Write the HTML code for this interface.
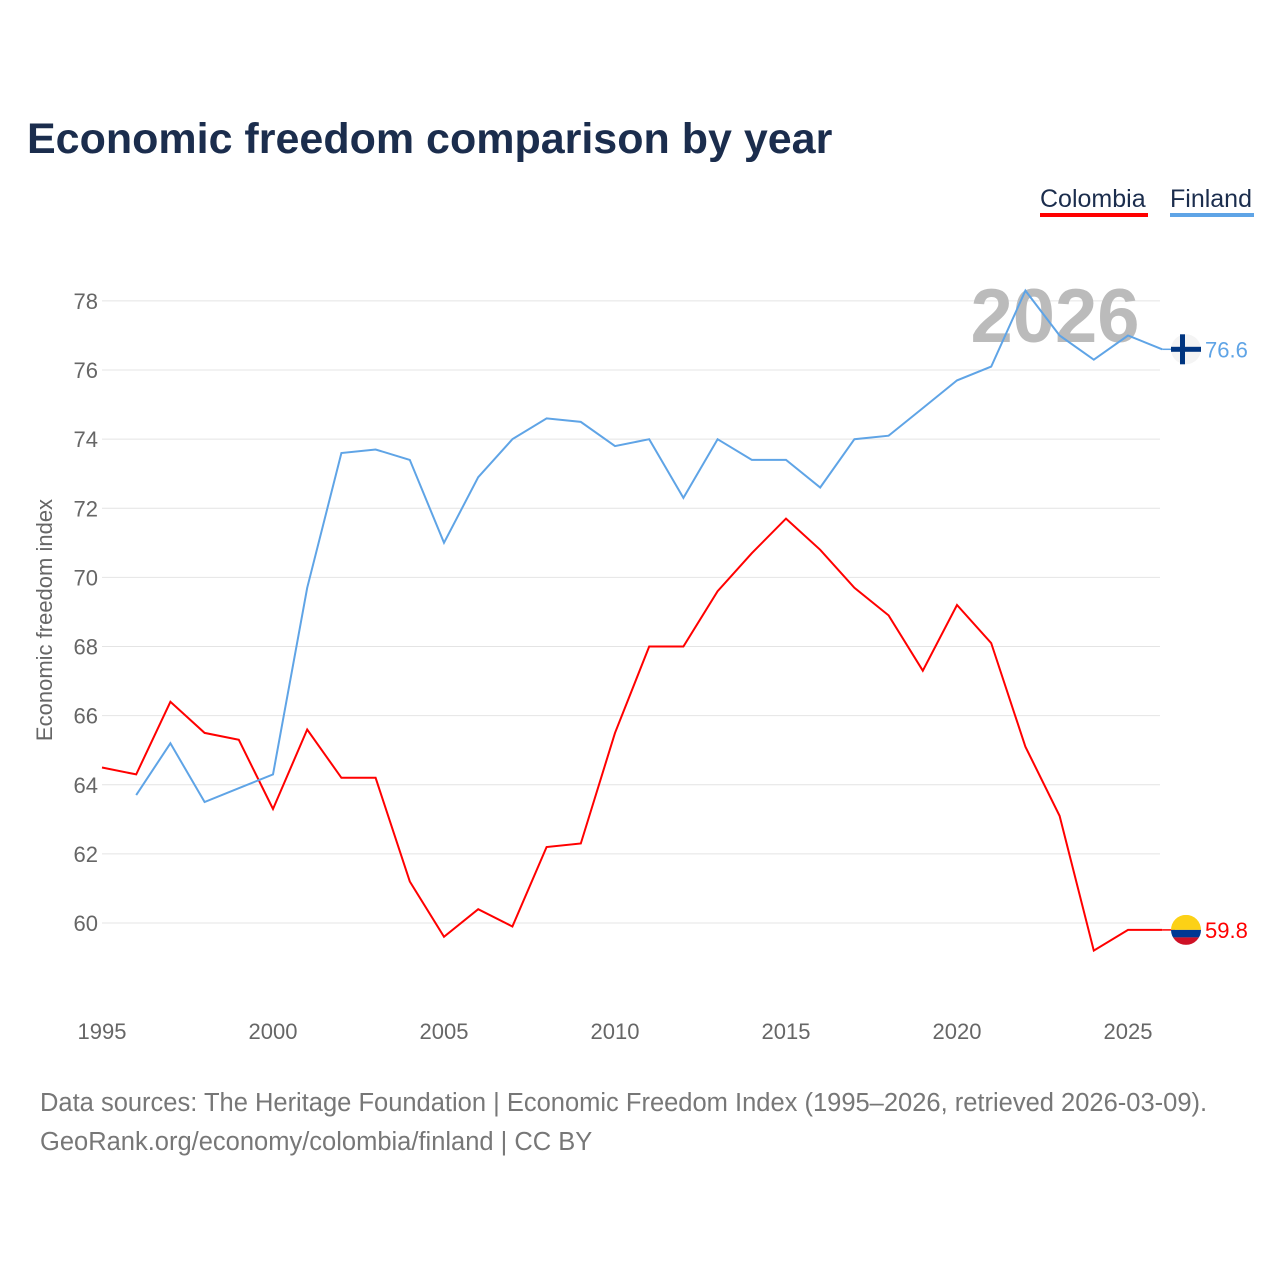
<!DOCTYPE html>
<html><head><meta charset="utf-8"><style>
body{margin:0;background:#fff;font-family:"Liberation Sans",sans-serif}
</style></head><body>
<svg width="1280" height="1280" xmlns="http://www.w3.org/2000/svg">
<text x="27" y="153" font-size="43" font-weight="bold" fill="#1b2d4d">Economic freedom comparison by year</text>
<g>
<text x="1040" y="207" font-size="25" fill="#1b2d4d">Colombia</text>
<rect x="1040" y="213" width="108" height="4" fill="#ff0000"/>
<text x="1170" y="207" font-size="25" fill="#1b2d4d">Finland</text>
<rect x="1170" y="213" width="84" height="4" fill="#5fa4e6"/>
</g>
<g id="grid"></g>
<text x="1055" y="342" font-size="76" font-weight="bold" fill="#bbb" text-anchor="middle">2026</text>
<g id="series"></g>
<text transform="translate(52,620) rotate(-90)" font-size="22" fill="#666" text-anchor="middle">Economic freedom index</text>
<text x="40" y="1111" font-size="25.5" fill="#777">Data sources: The Heritage Foundation | Economic Freedom Index (1995–2026, retrieved 2026-03-09).</text>
<text x="40" y="1150" font-size="25.5" fill="#777">GeoRank.org/economy/colombia/finland | CC BY</text>
</svg>
<script>
const years=[1995,1996,1997,1998,1999,2000,2001,2002,2003,2004,2005,2006,2007,2008,2009,2010,2011,2012,2013,2014,2015,2016,2017,2018,2019,2020,2021,2022,2023,2024,2025,2026];
const colombia=[64.5,64.3,66.4,65.5,65.3,63.3,65.6,64.2,64.2,61.2,59.6,60.4,59.9,62.2,62.3,65.5,68.0,68.0,69.6,70.7,71.7,70.8,69.7,68.9,67.3,69.2,68.1,65.1,63.1,59.2,59.8,59.8];
const finland=[null,63.7,65.2,63.5,63.9,64.3,69.7,73.6,73.7,73.4,71.0,72.9,74.0,74.6,74.5,73.8,74.0,72.3,74.0,73.4,73.4,72.6,74.0,74.1,74.9,75.7,76.1,78.3,77.0,76.3,77.0,76.6];
const yTicks=[60,62,64,66,68,70,72,74,76,78];
const xTicks=[1995,2000,2005,2010,2015,2020,2025];
const NS="http://www.w3.org/2000/svg";
const X=y=>102+(y-1995)*34.2;
const Y=v=>923-(v-60)*34.56;
function el(t,a,p){const e=document.createElementNS(NS,t);for(const k in a)e.setAttribute(k,a[k]);p.appendChild(e);return e;}
const g=document.getElementById('grid');
yTicks.forEach(v=>{
 const l=el('line',{x1:102,x2:1160,y1:Y(v),y2:Y(v),stroke:'#e4e4e4','stroke-width':1},g);
 
 
 const t=el('text',{x:98,y:Y(v)+8,'font-size':22,fill:'#666','text-anchor':'end'},g);t.textContent=v;
 
 
});
xTicks.forEach(v=>{
 const t=el('text',{x:X(v),y:1039,'font-size':22,fill:'#666','text-anchor':'middle'},g);t.textContent=v;
 
 
});
const s=document.getElementById('series');
function line(vals,color,name){
 let d='';vals.forEach((v,i)=>{if(v==null)return;d+=(d?'L':'M')+X(years[i]).toFixed(1)+','+Y(v).toFixed(1);});
 const p=el('path',{d:d,fill:'none',stroke:color,'stroke-width':2},s);
 
 
 const last=vals[vals.length-1];
 const lx=X(years[years.length-1]);
 el('line',{x1:lx,x2:1175,y1:Y(last),y2:Y(last),stroke:color,'stroke-width':1.5},s);
 const t=el('text',{x:1205,y:Y(last)+8,'font-size':22,fill:color},s);t.textContent=last.toFixed(1);
 
 
 return Y(last);
}
const yc=line(colombia,'#ff0000','colombia');
const yf=line(finland,'#5fa4e6','finland');
const cf=el('g',{},s);


el('clipPath',{id:'cc'},cf).appendChild(document.createElementNS(NS,'circle')).setAttribute('r',15);
const cc=document.querySelector('#cc circle');cc.setAttribute('cx',1186);cc.setAttribute('cy',yc);
el('rect',{x:1171,y:yc-15,width:30,height:15,fill:'#fcd116','clip-path':'url(#cc)'},cf);
el('rect',{x:1171,y:yc,width:30,height:7.5,fill:'#003893','clip-path':'url(#cc)'},cf);
el('rect',{x:1171,y:yc+7.5,width:30,height:7.5,fill:'#ce1126','clip-path':'url(#cc)'},cf);
const ff=el('g',{},s);


el('circle',{cx:1186,cy:yf,r:15,fill:'#f4f4f4'},ff);
el('rect',{x:1171,y:yf-2.5,width:30,height:5,fill:'#003580'},ff);
el('rect',{x:1180,y:yf-15,width:5,height:30,fill:'#003580'},ff);
</script>
</body></html>
